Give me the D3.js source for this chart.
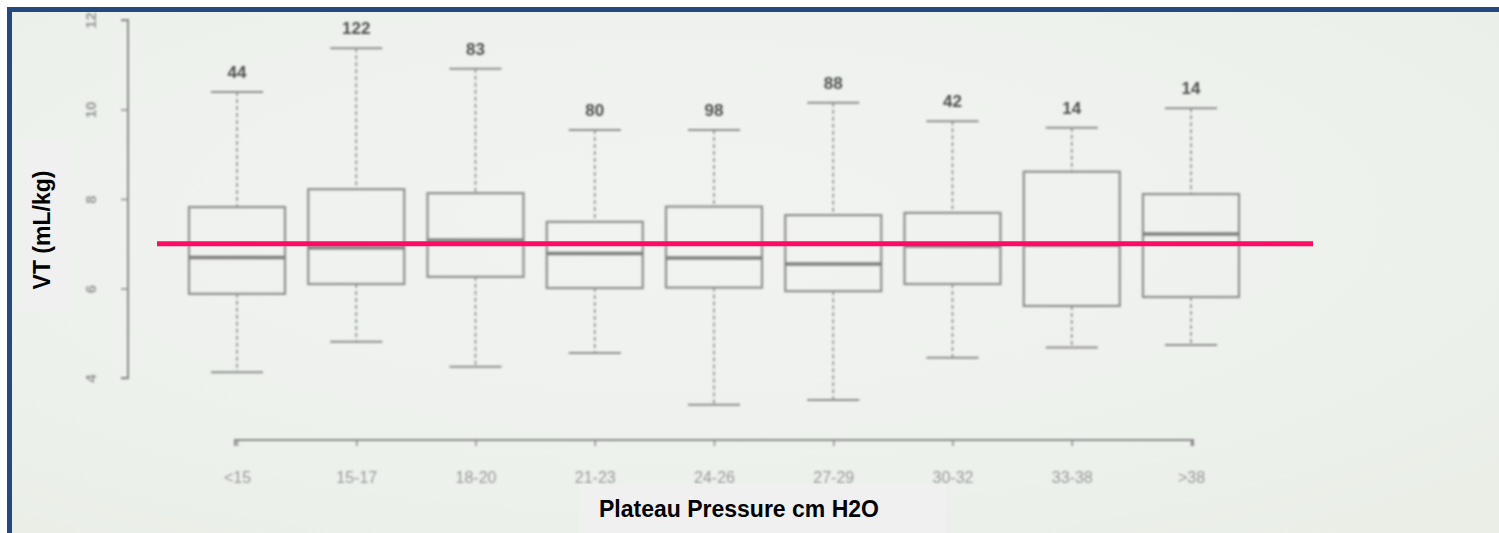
<!DOCTYPE html>
<html>
<head>
<meta charset="utf-8">
<script src="https://cdn.jsdelivr.net/npm/d3@7"></script>
<style>
  html, body { margin: 0; padding: 0; background: #ffffff; }
  svg { display: block; }
</style>
</head>
<body>
<svg id="chart" width="1499" height="533"></svg>
<script>
// Plateau pressure groups and tidal volume distributions (mL/kg)
const categories = ["<15", "15-17", "18-20", "21-23", "24-26", "27-29", "30-32", "33-38", ">38"];
const counts     = [44, 122, 83, 80, 98, 88, 42, 14, 14];
const whiskerLow = [4.13, 4.81, 4.25, 4.56, 3.40, 3.51, 4.45, 4.68, 4.74];
const q1         = [5.88, 6.10, 6.26, 6.01, 6.02, 5.94, 6.10, 5.61, 5.81];
const medians    = [6.69, 6.91, 7.08, 6.78, 6.68, 6.55, 6.95, 6.97, 7.22];
const q3         = [7.82, 8.22, 8.13, 7.49, 7.83, 7.64, 7.69, 8.61, 8.11];
const whiskerHigh= [10.39, 11.37, 10.91, 9.54, 9.54, 10.15, 9.74, 9.59, 10.03];
const yTicks     = [4, 6, 8, 10, 12];
const referenceVT = 7;

const svg = d3.select("#chart");
const W = 1499, H = 533;

// backdrop of the photographed page
const defs = svg.append("defs");
const grad = defs.append("radialGradient").attr("id", "paper")
  .attr("cx", "45%").attr("cy", "40%").attr("r", "75%");
grad.append("stop").attr("offset", "0%").attr("stop-color", "#f1f3f0");
grad.append("stop").attr("offset", "70%").attr("stop-color", "#edf1ec");
grad.append("stop").attr("offset", "100%").attr("stop-color", "#eaeee7");
const soft = defs.append("filter").attr("id", "soft")
  .attr("x", "-5%").attr("y", "-5%").attr("width", "110%").attr("height", "110%");
soft.append("feGaussianBlur").attr("stdDeviation", 0.9);

svg.append("rect").attr("x", 0).attr("y", 0).attr("width", W).attr("height", H).attr("fill", "#ffffff");
svg.append("rect").attr("x", 7).attr("y", 7).attr("width", W - 7).attr("height", H - 7).attr("fill", "url(#paper)");

const x = d3.scalePoint().domain(categories).range([237, 1191]);
const y = d3.scaleLinear().domain([4, 12]).range([378, 20]);
const boxW = 96, capW = 52;

const plot = svg.append("g").attr("filter", "url(#soft)");
const axisGrey = "#8a8c8a", labelGrey = "#979997";

// y axis (ticks to the left, labels turned sideways)
const yAxis = plot.append("g").attr("transform", "translate(128,0)")
  .call(d3.axisLeft(y).tickValues(yTicks).tickSize(7).tickFormat(d3.format("d")));
yAxis.select(".domain").attr("stroke", axisGrey).attr("stroke-width", 2).attr("d", "M-7,20H0V378H-7");
yAxis.selectAll(".tick line").attr("stroke", axisGrey).attr("stroke-width", 1.5);
yAxis.selectAll(".tick text")
  .attr("fill", labelGrey).attr("font-family", "Arial, sans-serif").attr("font-size", 15).attr("font-weight", "bold")
  .attr("text-anchor", "middle")
  .attr("x", 0).attr("y", 0).attr("dy", "0.35em")
  .attr("transform", "translate(-37,0) rotate(-90)");

// x axis
const xAxis = plot.append("g").attr("transform", "translate(0,440)")
  .call(d3.axisBottom(x).tickSize(6).tickPadding(26));
xAxis.select(".domain").attr("stroke", axisGrey).attr("stroke-width", 2).attr("d", "M235,6V0H1193V6");
xAxis.selectAll(".tick line").attr("stroke", axisGrey).attr("stroke-width", 1.5);
xAxis.selectAll(".tick text")
  .attr("fill", labelGrey).attr("font-family", "Arial, sans-serif").attr("font-size", 16);

// boxes
const data = categories.map((c, i) => ({
  c, n: counts[i], lo: whiskerLow[i], q1: q1[i], med: medians[i], q3: q3[i], hi: whiskerHigh[i]
}));
const g = plot.selectAll("g.box").data(data).join("g").attr("class", "box");
const stroke = "#8e908e";

g.append("line").attr("x1", d => x(d.c)).attr("x2", d => x(d.c))
  .attr("y1", d => y(d.hi)).attr("y2", d => y(d.q3))
  .attr("stroke", stroke).attr("stroke-width", 1.6).attr("stroke-dasharray", "4,3");
g.append("line").attr("x1", d => x(d.c)).attr("x2", d => x(d.c))
  .attr("y1", d => y(d.q1)).attr("y2", d => y(d.lo))
  .attr("stroke", stroke).attr("stroke-width", 1.6).attr("stroke-dasharray", "4,3");
g.append("line").attr("x1", d => x(d.c) - capW / 2).attr("x2", d => x(d.c) + capW / 2)
  .attr("y1", d => y(d.hi)).attr("y2", d => y(d.hi))
  .attr("stroke", stroke).attr("stroke-width", 2);
g.append("line").attr("x1", d => x(d.c) - capW / 2).attr("x2", d => x(d.c) + capW / 2)
  .attr("y1", d => y(d.lo)).attr("y2", d => y(d.lo))
  .attr("stroke", stroke).attr("stroke-width", 2);
g.append("rect").attr("x", d => x(d.c) - boxW / 2).attr("width", boxW)
  .attr("y", d => y(d.q3)).attr("height", d => y(d.q1) - y(d.q3))
  .attr("fill", "none").attr("stroke", stroke).attr("stroke-width", 2.2);
g.append("line").attr("x1", d => x(d.c) - boxW / 2).attr("x2", d => x(d.c) + boxW / 2)
  .attr("y1", d => y(d.med)).attr("y2", d => y(d.med))
  .attr("stroke", "#7e807e").attr("stroke-width", 3.5);
g.append("text").attr("x", d => x(d.c)).attr("y", d => y(d.hi) - 14)
  .attr("text-anchor", "middle").attr("fill", "#4e504e")
  .attr("font-family", "Arial, sans-serif").attr("font-size", 17).attr("font-weight", "bold")
  .text(d => d.n);

// reference tidal volume line
svg.append("line").attr("x1", 157).attr("x2", 1313)
  .attr("y1", y(referenceVT)).attr("y2", y(referenceVT))
  .attr("stroke", "#ff0a64").attr("stroke-width", 5);

// axis titles on light panels
svg.append("rect").attr("x", 18).attr("y", 139).attr("width", 49).attr("height", 172).attr("fill", "#f0f0f0");
svg.append("text").attr("transform", "translate(50,230) rotate(-90)")
  .attr("text-anchor", "middle").attr("font-family", "Arial, Liberation Sans, sans-serif")
  .attr("font-size", 23).attr("font-weight", "bold").attr("fill", "#000")
  .text("VT (mL/kg)");
svg.append("rect").attr("x", 579).attr("y", 484).attr("width", 367).attr("height", 49).attr("fill", "#f0f0f0");
svg.append("text").attr("x", 599).attr("y", 517)
  .attr("text-anchor", "start").attr("font-family", "Arial, Liberation Sans, sans-serif")
  .attr("font-size", 23).attr("font-weight", "bold").attr("fill", "#000")
  .text("Plateau Pressure cm H2O");

// frame edges
svg.append("rect").attr("x", 7).attr("y", 7).attr("width", W - 7).attr("height", 5).attr("fill", "#23497f");
svg.append("rect").attr("x", 7).attr("y", 7).attr("width", 5).attr("height", H - 7).attr("fill", "#23497f");
</script>
</body>
</html>
